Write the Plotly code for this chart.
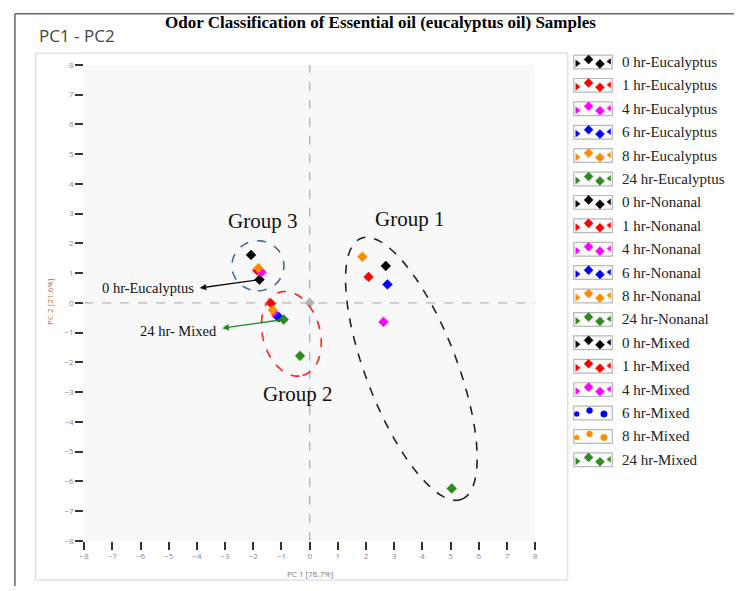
import numpy as np
import plotly.graph_objects as go

W, H = 737, 591

# ---------------- data ----------------
SERIES = [
    "0 hr-Eucalyptus", "1 hr-Eucalyptus", "4 hr-Eucalyptus", "6 hr-Eucalyptus", "8 hr-Eucalyptus", "24 hr-Eucalyptus",
    "0 hr-Nonanal", "1 hr-Nonanal", "4 hr-Nonanal", "6 hr-Nonanal", "8 hr-Nonanal", "24 hr-Nonanal",
    "0 hr-Mixed", "1 hr-Mixed", "4 hr-Mixed", "6 hr-Mixed", "8 hr-Mixed", "24 hr-Mixed",
]
COLORS = ["#000000", "#ff0000", "#ff00ff", "#0000ff", "#ff8c00", "#2e8b1e"] * 3
PC1 = [-1.78, -1.86, -1.71, -1.10, -1.82, -0.34,
       2.70, 2.09, 2.62, 2.76, 1.87, 5.04,
       -2.08, -1.37, -1.19, -1.10, -1.31, -0.92]
PC2 = [0.78, 1.09, 1.03, -0.48, 1.17, -1.78,
       1.24, 0.87, -0.64, 0.62, 1.55, -6.24,
       1.61, -0.02, -0.41, -0.48, -0.24, -0.56]
ROUND_ICON = [False] * 15 + [True, True, False]

TICKS = list(range(-8, 9))
TITLE = "Odor Classification of Essential oil (eucalyptus oil) Samples"
XTITLE = "PC 1 [76.7%]"
YTITLE = "PC 2 [21.6%]"

# ---------------- layout geometry (pixels) ----------------
PL, PR, PT, PB = 80, 536, 60, 545


def fx(px):
    return px / W


def fy(py):
    return 1 - py / H


fig = go.Figure()

for name, c, x, y in zip(SERIES, COLORS, PC1, PC2):
    fig.add_trace(go.Scatter(x=[x], y=[y], mode="markers", name=name,
                             marker=dict(symbol="diamond", size=7.5, color=c,
                                         line=dict(width=0.6, color=c)),
                             xaxis="x", yaxis="y", showlegend=False))

# origin marker
fig.add_trace(go.Scatter(x=[TICKS[8]], y=[TICKS[8]], mode="markers",
                         marker=dict(symbol="diamond", size=8, color="#b4b4b4"),
                         xaxis="x", yaxis="y", showlegend=False))

shapes = []
annotations = []

# frames (paper refs, below everything)
shapes.append(dict(type="line", xref="paper", yref="paper", x0=fx(10), x1=fx(737), y0=fy(8), y1=fy(8),
                   line=dict(color="#666666", width=1.5)))
shapes.append(dict(type="line", xref="paper", yref="paper", x0=fx(10), x1=fx(10), y0=fy(8), y1=fy(591),
                   line=dict(color="#666666", width=1.5)))
shapes.append(dict(type="rect", xref="paper", yref="paper", x0=fx(31), x1=fx(569), y0=fy(585), y1=fy(48),
                   line=dict(color="#d4d4d4", width=1), layer="below"))
shapes.append(dict(type="rect", xref="paper", yref="paper", x0=fx(PL), x1=fx(PR), y0=fy(PB), y1=fy(PT),
                   line=dict(width=0), fillcolor="#f8f8f8", layer="below"))

# dashed zero lines
shapes.append(dict(type="line", xref="x", yref="y", x0=0, x1=0, y0=-8, y1=8,
                   line=dict(color="#b4b4b4", width=1.4, dash="dash"), layer="below"))
shapes.append(dict(type="line", xref="x", yref="y", x0=-8, x1=8, y0=0, y1=0,
                   line=dict(color="#b4b4b4", width=1.4, dash="dash"), layer="below"))


def ellipse_path(cx, cy, a, b, ang_deg, n=90):
    t = np.linspace(0, 2 * np.pi, n)
    ang = np.deg2rad(ang_deg)
    ex = a * np.cos(t)
    ey = b * np.sin(t)
    px = cx + ex * np.sin(ang) + ey * np.cos(ang)
    py = cy + ex * np.cos(ang) - ey * np.sin(ang)
    return "M " + " L ".join(f"{u:.2f},{v:.2f}" for u, v in zip(px, py)) + " Z"


# group ellipses (pixel space on overlay axes)
shapes.append(dict(type="path", xref="x2", yref="y2",
                   path=ellipse_path(255.7, 264.7, 25.5, 26.3, 0),
                   line=dict(color="#4a6a98", width=1.6, dash="dash")))
shapes.append(dict(type="path", xref="x2", yref="y2",
                   path=ellipse_path(289.5, 334, 44, 29, 15),
                   line=dict(color="#ff2020", width=1.6, dash="dash")))
shapes.append(dict(type="path", xref="x2", yref="y2",
                   path=ellipse_path(410.8, 369.7, 142.4, 46, 20.9),
                   line=dict(color="#222222", width=1.6, dash="dash")))

serif = "Liberation Serif, Times New Roman, serif"
for txt, x, y in [("Group 3", 260, 219), ("Group 1", 409, 217), ("Group 2", 296, 395)]:
    annotations.append(dict(xref="x2", yref="y2", x=x, y=y, text=txt, showarrow=False,
                            font=dict(family=serif, size=21, color="#111111")))

# arrow callouts
annotations.append(dict(xref="x2", yref="y2", x=145, y=287, text="0 hr-Eucalyptus", showarrow=False,
                        font=dict(family=serif, size=14.5, color="#111111")))
annotations.append(dict(xref="x", yref="y", x=-3.9, y=0.5, ax=PC1[0], ay=PC2[0],
                        axref="x", ayref="y", text="", showarrow=True,
                        arrowhead=2, arrowsize=1, arrowwidth=1.3, arrowcolor="#111111"))
annotations.append(dict(xref="x2", yref="y2", x=175, y=331, text="24 hr- Mixed", showarrow=False,
                        font=dict(family=serif, size=14.5, color="#111111")))
annotations.append(dict(xref="x", yref="y", x=-3.1, y=-0.85, ax=PC1[17], ay=PC2[17],
                        axref="x", ayref="y", text="", showarrow=True,
                        arrowhead=2, arrowsize=1, arrowwidth=1.3, arrowcolor="#1a8a1a"))

# title & header
annotations.append(dict(xref="x2", yref="y2", x=380, y=17, text="<b>" + TITLE + "</b>", showarrow=False,
                        font=dict(family=serif, size=17, color="#000000")))
annotations.append(dict(xref="x2", yref="y2", x=32, y=30, text="PC1 - PC2", showarrow=False, xanchor="left",
                        font=dict(family="Open Sans, sans-serif", size=17, color="#444444")))
annotations.append(dict(xref="x2", yref="y2", x=308, y=578, text=XTITLE, showarrow=False,
                        font=dict(family="Open Sans, sans-serif", size=8, color="#777777")))
annotations.append(dict(xref="x2", yref="y2", x=45, y=302, text=YTITLE, showarrow=False, textangle=-90,
                        font=dict(family="Open Sans, sans-serif", size=8, color="#aa7733")))

# custom legend
LX0, LX1 = 575, 614
LY0, LSTEP = 57, 23.85
leg_x, leg_y, leg_c, leg_s, leg_z = [], [], [], [], []
for i, (name, c, rnd) in enumerate(zip(SERIES, COLORS, ROUND_ICON)):
    yc = LY0 + i * LSTEP
    shapes.append(dict(type="rect", xref="paper", yref="paper", x0=fx(LX0), x1=fx(LX1),
                       y0=fy(yc + 7), y1=fy(yc - 7), layer="below",
                       line=dict(color="#b8b8b8", width=1.2), fillcolor="#fcfcfc"))
    annotations.append(dict(xref="x2", yref="y2", x=622, y=yc, text=name, showarrow=False,
                            xanchor="left", font=dict(family=serif, size=15, color="#222222")))
    if rnd:
        pts = [(578, yc + 1, "circle", 5), (591, yc - 2.5, "circle", 6), (605.5, yc + 1, "circle", 6.5)]
    else:
        pts = [(578.5, yc + 1.5, "triangle-right", 6), (590, yc - 2.5, "diamond", 7),
               (601.5, yc + 2, "diamond", 7), (611, yc - 0.5, "triangle-left", 5)]
    for px_, py_, sym, sz in pts:
        leg_x.append(px_)
        leg_y.append(py_)
        leg_c.append(c)
        leg_s.append(sym)
        leg_z.append(sz)
fig.add_trace(go.Scatter(x=leg_x, y=leg_y, mode="markers", xaxis="x2", yaxis="y2",
                         marker=dict(symbol=leg_s, size=leg_z, color=leg_c, opacity=1,
                                     line=dict(width=0.4, color=leg_c)),
                         showlegend=False))

axis_font = dict(family="Open Sans, sans-serif", size=8, color="#888888")
fig.update_layout(
    width=W, height=H, margin=dict(l=0, r=0, t=0, b=0),
    paper_bgcolor="white", plot_bgcolor="rgba(0,0,0,0)",
    showlegend=False,
    xaxis=dict(domain=[PL / W, PR / W], range=[-8, 8], tickvals=TICKS, ticks="outside",
               ticklen=8, tickwidth=2, tickcolor="#333333", showgrid=False, zeroline=False,
               showline=False, tickfont=axis_font, fixedrange=True),
    yaxis=dict(domain=[1 - PB / H, 1 - PT / H], range=[-8, 8], tickvals=TICKS, ticks="outside",
               ticklen=8, tickwidth=2, tickcolor="#333333", showgrid=False, zeroline=False,
               showline=False, tickfont=axis_font, fixedrange=True),
    xaxis2=dict(domain=[0, 1], range=[0, W], visible=False, fixedrange=True, anchor="y2"),
    yaxis2=dict(domain=[0, 1], range=[H, 0], visible=False, fixedrange=True, anchor="x2"),
    shapes=shapes, annotations=annotations,
)

fig.write_html("out.html")
